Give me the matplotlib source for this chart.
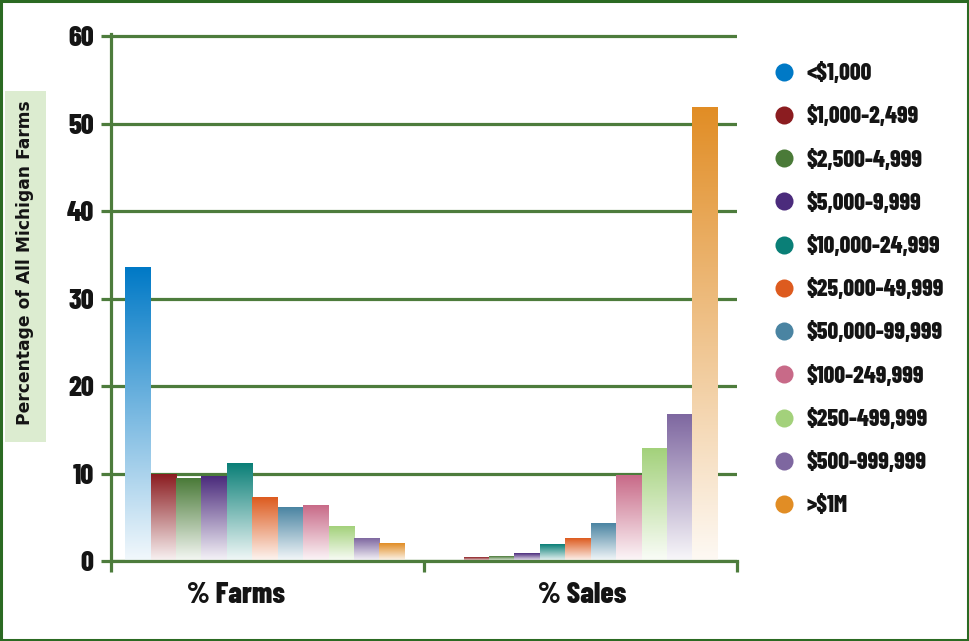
import matplotlib
matplotlib.use('Agg')
import matplotlib.pyplot as plt
import numpy as np
from matplotlib import font_manager
from matplotlib.patches import Rectangle
from matplotlib.lines import Line2D
from matplotlib.colors import to_rgb

# ---------------- data ----------------
categories = ['% Farms', '% Sales']
classes = ['<\\$1,000', '\\$1,000-2,499', '\\$2,500-4,999', '\\$5,000-9,999',
           '\\$10,000-24,999', '\\$25,000-49,999', '\\$50,000-99,999',
           '\\$100-249,999', '\\$250-499,999', '\\$500-999,999', '>\\$1M']
farms = [33.5, 9.9, 9.4, 9.7, 11.1, 7.3, 6.1, 6.4, 3.9, 2.6, 2.0]
sales = [0.0, 0.4, 0.55, 0.9, 1.9, 2.6, 4.3, 9.8, 12.9, 16.8, 51.8]
colors = ['#0079c6', '#8b1c20', '#4a7a38', '#4b2b7c', '#0a7f77', '#dd5b1f',
          '#4a84a2', '#c86a88', '#a3d17b', '#7e67a0', '#e18d25']
y_ticks = [0, 10, 20, 30, 40, 50, 60]
y_label = 'Percentage of All Michigan Farms'

# ---------------- fonts ----------------
names = {f.name for f in font_manager.fontManager.ttflist}
COND = [f for f in ['Barlow Condensed', 'Fira Sans Condensed'] if f in names] + ['DejaVu Sans']
cond_fp = dict(family=COND, weight=800, stretch='condensed')

GREEN = '#4d7c3c'
FRAME = '#2b6a22'
TXT = '#141414'

W, H = 969, 641
fig = plt.figure(figsize=(W / 100, H / 100), dpi=100)
fig.patch.set_facecolor('white')

ax = fig.add_axes([111 / W, 1 - 561 / H, (737 - 111) / W, (561 - 34) / H])

n = len(classes)
group_w = 0.893
bw = group_w / n
shift = -0.008
series = [farms, sales]

for g, vals in enumerate(series):
    xs = [g + shift - group_w / 2 + (i + 0.5) * bw for i in range(n)]
    bars = ax.bar(xs, vals, width=bw, color='none', linewidth=0, zorder=2)
    for b, col in zip(bars, colors):
        h = b.get_height()
        if h <= 0:
            continue
        c = np.array(to_rgb(col))
        t = np.linspace(0, 1, 256)[:, None]
        w = 0.95 * (1 - t)
        rgb = c * (1 - w) + w
        ax.imshow(rgb[:, None, :], extent=(b.get_x(), b.get_x() + b.get_width(), 0, h),
                  origin='lower', aspect='auto', interpolation='bilinear', zorder=2)

ax.set_xlim(-0.5, 1.5)
ax.set_ylim(0, 60.25)
ax.set_yticks(y_ticks)
ax.set_yticklabels([str(v) for v in y_ticks])
ax.grid(axis='y', color=GREEN, linewidth=2.3, zorder=0)
ax.set_axisbelow(True)

for s in ['top', 'right']:
    ax.spines[s].set_visible(False)
for s in ['left', 'bottom']:
    ax.spines[s].set_color(GREEN)
    ax.spines[s].set_linewidth(2.3)
    ax.spines[s].set_zorder(3)

ax.tick_params(axis='y', length=7.5, width=2.3, color=GREEN, pad=5,
               labelsize=20, labelcolor=TXT)
for lab in ax.get_yticklabels():
    lab.set_fontproperties(font_manager.FontProperties(**cond_fp, size=20.5))

ax.set_xticks([-0.5, 0.5, 1.5])
ax.set_xticklabels([])
ax.tick_params(axis='x', length=8, width=2.3, color=GREEN, direction='out')

# category labels
for g, cat in enumerate(categories):
    off = -0.1 if g == 0 else 0.005
    ax.text(g + off, -3.9, cat, ha='center', va='center',
            fontproperties=font_manager.FontProperties(**cond_fp, size=21.5),
            color=TXT, clip_on=False)

# y label with light green box
fig.add_artist(Rectangle((5 / W, 1 - 442 / H), 41 / W, 351 / H,
                         transform=fig.transFigure, facecolor='#dcecd0',
                         edgecolor='none'))
fig.text(25.5 / W, 1 - 263 / H, y_label, rotation=90, ha='center', va='center',
         fontsize=12.3, fontweight='bold', family='DejaVu Sans', color=TXT)

# legend
handles = [Line2D([], [], linestyle='none', marker='o', markersize=13,
                  markerfacecolor=c, markeredgecolor='none') for c in colors]
leg = fig.legend(handles, classes, loc='upper left',
                 bbox_to_anchor=(772 / W, 1 - 63 / H), frameon=False,
                 handlelength=1.0, handletextpad=0.45, labelspacing=0.90,
                 borderaxespad=0, borderpad=0,
                 prop=font_manager.FontProperties(**cond_fp, size=17))
for t in leg.get_texts():
    t.set_color(TXT)

# outer frame
fig.add_artist(Rectangle((1.2 / W, 1.0 / H), (W - 2.4) / W, (H - 2.4) / H,
                         transform=fig.transFigure, facecolor='none',
                         edgecolor=FRAME, linewidth=2.2))

fig.savefig('out.png', dpi=100, facecolor='white')
